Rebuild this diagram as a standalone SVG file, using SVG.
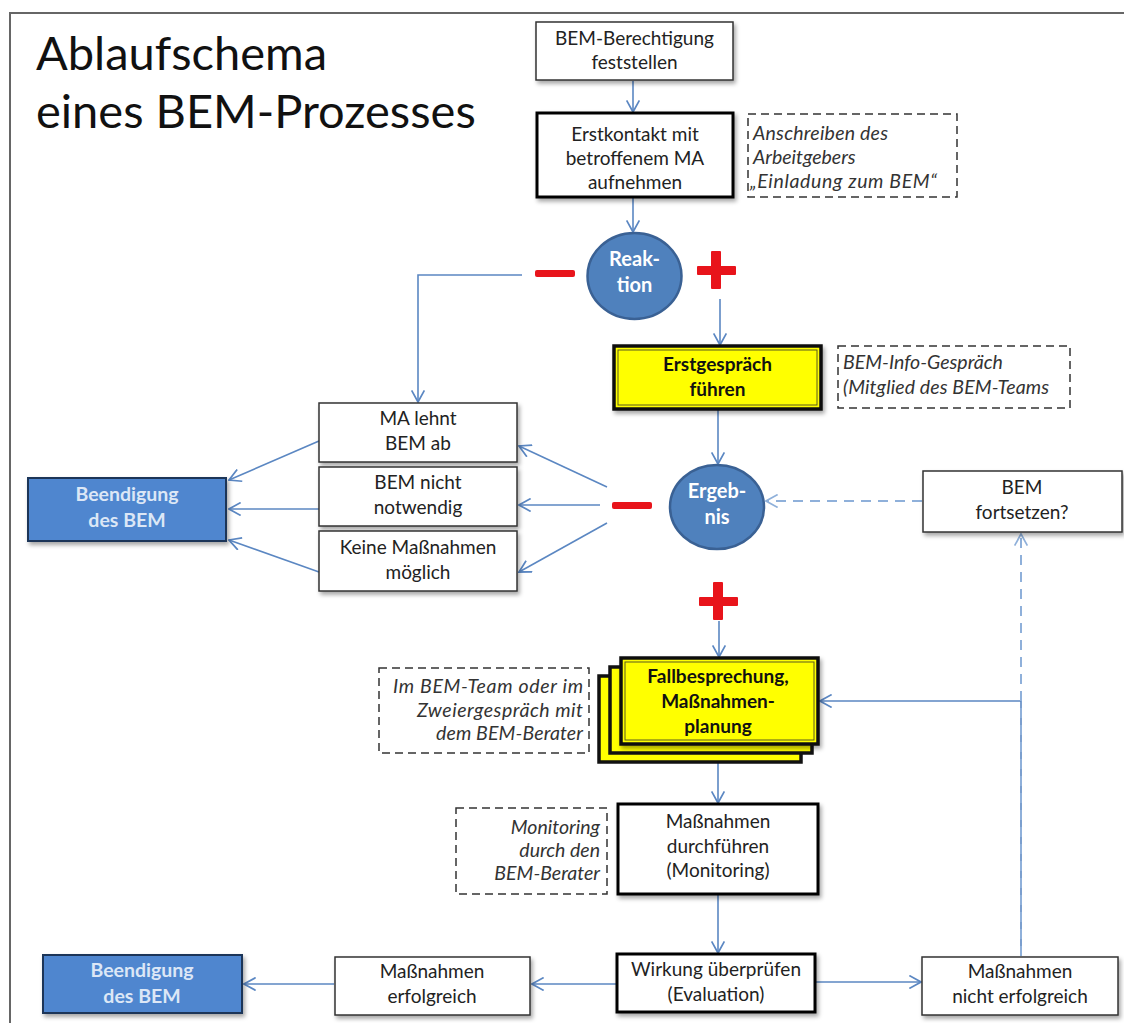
<svg xmlns="http://www.w3.org/2000/svg" width="1124" height="1023" viewBox="0 0 1124 1023">
<defs>
<filter id="sh" x="-10%" y="-10%" width="130%" height="140%">
<feDropShadow dx="2" dy="3" stdDeviation="2" flood-color="#000" flood-opacity="0.35"/>
</filter>
<marker id="ar" markerUnits="userSpaceOnUse" markerWidth="14" markerHeight="14" viewBox="0 0 12 12" refX="11" refY="6" orient="auto">
<path d="M1,0.5 L11,6 L1,11.5" fill="none" stroke="#5b87c2" stroke-width="1.5"/>
</marker>
<marker id="ard" markerUnits="userSpaceOnUse" markerWidth="14" markerHeight="14" viewBox="0 0 12 12" refX="11" refY="6" orient="auto">
<path d="M1,0.5 L11,6 L1,11.5" fill="none" stroke="#8fb0da" stroke-width="1.5"/>
</marker>
<style>
.t{font-family:Lato,"Liberation Sans",sans-serif;font-size:19px;fill:#222;text-anchor:middle}
.tb{font-family:Lato,"Liberation Sans",sans-serif;font-size:19px;font-weight:bold;fill:#111;text-anchor:middle}
.tw{font-family:Lato,"Liberation Sans",sans-serif;font-size:20px;font-weight:bold;fill:#fff;text-anchor:middle}
.tl{font-family:Lato,"Liberation Sans",sans-serif;font-size:19.5px;font-weight:bold;fill:#dce7f6;text-anchor:middle}
.ti{font-family:Lato,"Liberation Sans",sans-serif;font-size:19.5px;font-style:italic;fill:#333}
.box{fill:#fff;stroke:#333;stroke-width:1.5}
.boxk{fill:#fff;stroke:#000;stroke-width:3}
.note{fill:#fff;stroke:#333;stroke-width:1.5;stroke-dasharray:8 5}
.yel{fill:#ffff00;stroke:#111;stroke-width:3.5}
.yin{fill:none;stroke:#5a5a20;stroke-width:1}
.blue{fill:#4f86cf;stroke:#1f3658;stroke-width:2}
.circ{fill:#4f81bd;stroke:#3a6194;stroke-width:2.5}
.c{fill:none;stroke:#5b87c2;stroke-width:1.6}
.cd{fill:none;stroke:#8fb0da;stroke-width:2;stroke-dasharray:10 7}
.red{fill:#e8141b}
</style>
</defs>
<rect x="10" y="13" width="1122" height="1022" fill="#fff" stroke="#666" stroke-width="2"/>
<text x="36" y="70" font-family="Lato,'Liberation Sans',sans-serif" font-size="47" fill="#111">Ablaufschema</text>
<text x="36" y="128" font-family="Lato,'Liberation Sans',sans-serif" font-size="47" fill="#111">eines BEM-Prozesses</text>

<g id="connectors">
<line class="c" x1="633" y1="81" x2="633" y2="112" marker-end="url(#ar)"/>
<line class="c" x1="633" y1="198" x2="633" y2="232" marker-end="url(#ar)"/>
<polyline class="c" points="522,275 418,275 418,402" marker-end="url(#ar)"/>
<line class="c" x1="720" y1="299" x2="720" y2="345" marker-end="url(#ar)"/>
<line class="c" x1="718" y1="410" x2="718" y2="464" marker-end="url(#ar)"/>
<line class="c" x1="607" y1="487" x2="519" y2="446" marker-end="url(#ar)"/>
<line class="c" x1="600" y1="505" x2="519" y2="505" marker-end="url(#ar)"/>
<line class="c" x1="607" y1="523" x2="519" y2="572" marker-end="url(#ar)"/>
<line class="c" x1="319" y1="441" x2="229" y2="480" marker-end="url(#ar)"/>
<line class="c" x1="319" y1="509" x2="229" y2="509" marker-end="url(#ar)"/>
<line class="c" x1="319" y1="572" x2="229" y2="540" marker-end="url(#ar)"/>
<line class="cd" x1="922" y1="501" x2="766" y2="501" marker-end="url(#ard)"/>
<line class="c" x1="719" y1="621" x2="719" y2="657" marker-end="url(#ar)"/>
<polyline class="c" points="1021,956 1021,701 820,701" marker-end="url(#ar)"/>
<line class="cd" x1="1021" y1="956" x2="1021" y2="534" marker-end="url(#ard)"/>
<line class="c" x1="718" y1="762" x2="718" y2="803" marker-end="url(#ar)"/>
<line class="c" x1="718" y1="895" x2="718" y2="953" marker-end="url(#ar)"/>
<line class="c" x1="816" y1="982" x2="921" y2="982" marker-end="url(#ar)"/>
<line class="c" x1="616" y1="984" x2="532" y2="984" marker-end="url(#ar)"/>
<line class="c" x1="334" y1="984" x2="244" y2="984" marker-end="url(#ar)"/>
</g>

<g id="signs">
<rect class="red" x="535" y="270" width="40" height="7" rx="2"/>
<rect class="red" x="697" y="266" width="39" height="9" rx="1"/>
<rect class="red" x="711" y="251" width="10" height="38" rx="1"/>
<rect class="red" x="612" y="502" width="40" height="7" rx="2"/>
<rect class="red" x="699" y="597" width="39" height="9" rx="1"/>
<rect class="red" x="713" y="582" width="10" height="38" rx="1"/>
</g>

<g id="n-berechtigung">
<rect class="box" x="536" y="22" width="197" height="58" filter="url(#sh)"/>
<text class="t" x="634.5" y="45">BEM-Berechtigung</text>
<text class="t" x="634.5" y="69">feststellen</text>
</g>
<g id="n-erstkontakt">
<rect class="boxk" x="537" y="113" width="196" height="84" filter="url(#sh)"/>
<text class="t" x="635" y="141">Erstkontakt mit</text>
<text class="t" x="635" y="165">betroffenem  MA</text>
<text class="t" x="635" y="189">aufnehmen</text>
</g>
<g id="note-anschreiben">
<rect class="note" x="748" y="114" width="209" height="83"/>
<text class="ti" x="753" y="140" textLength="135" lengthAdjust="spacing">Anschreiben des</text>
<text class="ti" x="753" y="164">Arbeitgebers</text>
<text class="ti" x="750" y="188" textLength="187" lengthAdjust="spacing">„Einladung zum BEM“</text>
</g>
<g id="n-reaktion">
<ellipse class="circ" cx="634.5" cy="276" rx="47" ry="43"/>
<text class="tw" x="634.5" y="266">Reak-</text>
<text class="tw" x="634.5" y="292">tion</text>
</g>
<g id="n-erstgespraech">
<rect class="yel" x="614" y="346" width="207" height="63" filter="url(#sh)"/>
<rect class="yin" x="618" y="350" width="199" height="55"/>
<text class="tb" x="717.5" y="371">Erstgespräch</text>
<text class="tb" x="717.5" y="396">führen</text>
</g>
<g id="note-info">
<rect class="note" x="838" y="346" width="232" height="62"/>
<text class="ti" x="843" y="369">BEM-Info-Gespräch</text>
<text class="ti" x="843" y="394" textLength="206" lengthAdjust="spacing">(Mitglied des BEM-Teams</text>
</g>
<g id="n-lehnt">
<rect class="box" x="319" y="403" width="198" height="59" filter="url(#sh)"/>
<text class="t" x="418" y="425">MA lehnt</text>
<text class="t" x="418" y="450">BEM ab</text>
</g>
<g id="n-nicht-notwendig">
<rect class="box" x="319" y="467" width="198" height="59" filter="url(#sh)"/>
<text class="t" x="418" y="489">BEM nicht</text>
<text class="t" x="418" y="514">notwendig</text>
</g>
<g id="n-keine">
<rect class="box" x="319" y="531" width="198" height="60" filter="url(#sh)"/>
<text class="t" x="418" y="554">Keine Maßnahmen</text>
<text class="t" x="418" y="579">möglich</text>
</g>
<g id="n-beendigung1">
<rect class="blue" x="28" y="478" width="198" height="63" filter="url(#sh)"/>
<text class="tl" x="127" y="501">Beendigung</text>
<text class="tl" x="127" y="527">des BEM</text>
</g>
<g id="n-ergebnis">
<ellipse class="circ" cx="717" cy="507" rx="47" ry="42"/>
<text class="tw" x="717" y="498">Ergeb-</text>
<text class="tw" x="717" y="524">nis</text>
</g>
<g id="n-fortsetzen">
<rect class="box" x="923" y="471" width="199" height="61" filter="url(#sh)"/>
<text class="t" x="1022" y="494">BEM</text>
<text class="t" x="1022" y="519">fortsetzen?</text>
</g>
<g id="note-team">
<rect class="note" x="379" y="668" width="210" height="85"/>
<text class="ti" x="393" y="693" textLength="190" lengthAdjust="spacing">Im BEM-Team oder im</text>
<text class="ti" x="417" y="717" textLength="166" lengthAdjust="spacing">Zweiergespräch mit</text>
<text class="ti" x="436" y="740" textLength="147" lengthAdjust="spacing">dem BEM-Berater</text>
</g>
<g id="n-fallbesprechung">
<rect class="yel" x="599" y="676" width="202" height="86"/>
<rect class="yel" x="610" y="667" width="202" height="86"/>
<rect class="yel" x="621" y="658" width="197" height="86" filter="url(#sh)"/>
<rect class="yin" x="625" y="662" width="189" height="78"/>
<text class="tb" x="718" y="683">Fallbesprechung,</text>
<text class="tb" x="718" y="708">Maßnahmen-</text>
<text class="tb" x="718" y="733">planung</text>
</g>
<g id="note-monitoring">
<rect class="note" x="456" y="808" width="151" height="86"/>
<text class="ti" x="600" y="834" text-anchor="end">Monitoring</text>
<text class="ti" x="600" y="857" text-anchor="end">durch den</text>
<text class="ti" x="600" y="880" text-anchor="end">BEM-Berater</text>
</g>
<g id="n-durchfuehren">
<rect class="boxk" x="618" y="804" width="200" height="90" filter="url(#sh)"/>
<text class="t" x="718" y="828">Maßnahmen</text>
<text class="t" x="718" y="853">durchführen</text>
<text class="t" x="718" y="877">(Monitoring)</text>
</g>
<g id="n-wirkung">
<rect class="boxk" x="617" y="954" width="198" height="58" filter="url(#sh)"/>
<text class="t" x="716" y="976">Wirkung überprüfen</text>
<text class="t" x="716" y="1001">(Evaluation)</text>
</g>
<g id="n-nicht-erfolgreich">
<rect class="box" x="922" y="957" width="196" height="58" filter="url(#sh)"/>
<text class="t" x="1020" y="978">Maßnahmen</text>
<text class="t" x="1020" y="1003">nicht erfolgreich</text>
</g>
<g id="n-erfolgreich">
<rect class="box" x="335" y="957" width="195" height="58" filter="url(#sh)"/>
<text class="t" x="432" y="978">Maßnahmen</text>
<text class="t" x="432" y="1003">erfolgreich</text>
</g>
<g id="n-beendigung2">
<rect class="blue" x="43" y="955" width="199" height="58" filter="url(#sh)"/>
<text class="tl" x="142" y="977">Beendigung</text>
<text class="tl" x="142" y="1003">des BEM</text>
</g>
</svg>
